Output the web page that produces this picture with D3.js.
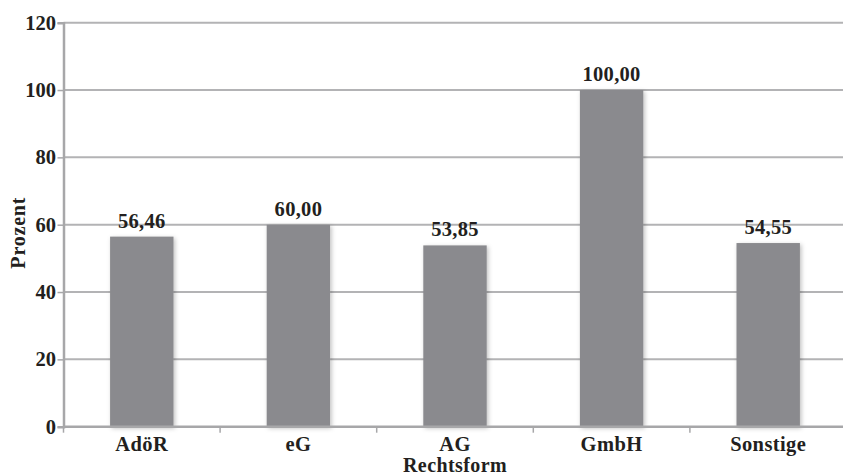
<!DOCTYPE html>
<html>
<head>
<meta charset="utf-8">
<script src="https://cdn.jsdelivr.net/npm/d3@7"></script>
<style>
  html, body { margin: 0; padding: 0; background: #fff; }
  svg { display: block; }
  text { font-family: "Liberation Serif", "DejaVu Serif", serif; font-weight: bold; fill: #231f20; }
</style>
</head>
<body>
<svg id="chart" width="843" height="476"></svg>
<script>
// Anteil je Rechtsform in Prozent
const categories = ["AdöR", "eG", "AG", "GmbH", "Sonstige"];
const values = [56.46, 60.00, 53.85, 100.00, 54.55];
const yTicks = [0, 20, 40, 60, 80, 100, 120];
const xTitle = "Rechtsform";
const yTitle = "Prozent";

const svg = d3.select("#chart");
const margin = { left: 63.5, right: -3.5, top: 22.7, bottom: 49.3 };
const W = 843, H = 476;

const band = d3.scaleBand().domain(categories).range([margin.left, W - margin.right]);
const y = d3.scaleLinear().domain([0, 120]).range([H - margin.bottom, margin.top]);
const barW = band.bandwidth() * 0.405;
const cx = c => band(c) + band.bandwidth() / 2;

const fmt = v => v.toFixed(2).replace(".", ",");

// soft shadow under the bars
const defs = svg.append("defs");
const f = defs.append("filter").attr("id", "shadow")
  .attr("x", "-20%").attr("y", "-20%").attr("width", "140%").attr("height", "140%");
f.append("feDropShadow").attr("dx", 1.5).attr("dy", 1.5).attr("stdDeviation", 2)
  .attr("flood-color", "#000").attr("flood-opacity", 0.25);

// horizontal gridlines
svg.append("g").selectAll("line").data(yTicks.filter(d => d > 0)).join("line")
  .attr("x1", margin.left).attr("x2", W)
  .attr("y1", d => y(d)).attr("y2", d => y(d))
  .attr("stroke", "#b3b3b5").attr("stroke-width", 2);

// bars
svg.append("g").selectAll("rect").data(values).join("rect")
  .attr("x", (d, i) => cx(categories[i]) - barW / 2)
  .attr("width", barW)
  .attr("y", d => y(d))
  .attr("height", d => y(0) - y(d))
  .attr("fill", "#8a8a8e")
  .attr("filter", "url(#shadow)");

// value labels
svg.append("g").selectAll("text").data(values).join("text")
  .attr("x", (d, i) => cx(categories[i]))
  .attr("y", d => y(d) - 9)
  .attr("text-anchor", "middle")
  .attr("font-size", 20.5)
  .attr("letter-spacing", 0.3)
  .text(d => fmt(d));

// y axis
const yAxis = d3.axisLeft(y).tickValues(yTicks).tickSize(6).tickPadding(1.5);
const gy = svg.append("g").attr("transform", `translate(${margin.left},0)`).call(yAxis);
gy.select(".domain").attr("stroke", "#a7a7a9").attr("stroke-width", 2.5);
gy.selectAll(".tick line").attr("stroke", "#a7a7a9").attr("stroke-width", 1.5);
gy.selectAll(".tick text").attr("font-size", 20.5).attr("fill", "#231f20")
  .attr("font-family", "Liberation Serif").attr("font-weight", "bold");

// x axis: ticks at category boundaries
const gx = svg.append("g").attr("transform", `translate(0,${y(0)})`);
gx.append("line").attr("x1", margin.left).attr("x2", W)
  .attr("stroke", "#a7a7a9").attr("stroke-width", 2.5);
gx.selectAll("line.tk").data(categories).join("line").attr("class", "tk")
  .attr("x1", d => band(d)).attr("x2", d => band(d))
  .attr("y1", 0).attr("y2", 6)
  .attr("stroke", "#a7a7a9").attr("stroke-width", 1.5);
gx.selectAll("text").data(categories).join("text")
  .attr("x", d => cx(d))
  .attr("y", 24)
  .attr("text-anchor", "middle")
  .attr("font-size", 20.5)
  .attr("letter-spacing", 0.4)
  .text(d => d);

// axis titles
svg.append("text")
  .attr("x", (margin.left + W - margin.right) / 2).attr("y", 472)
  .attr("text-anchor", "middle").attr("font-size", 20)
  .attr("letter-spacing", 0.4)
  .text(xTitle);
svg.append("text")
  .attr("transform", `translate(25,${(y(0) + y(120)) / 2 + 8}) rotate(-90)`)
  .attr("text-anchor", "middle").attr("font-size", 20)
  .attr("letter-spacing", 0.8)
  .text(yTitle);
</script>
</body>
</html>
